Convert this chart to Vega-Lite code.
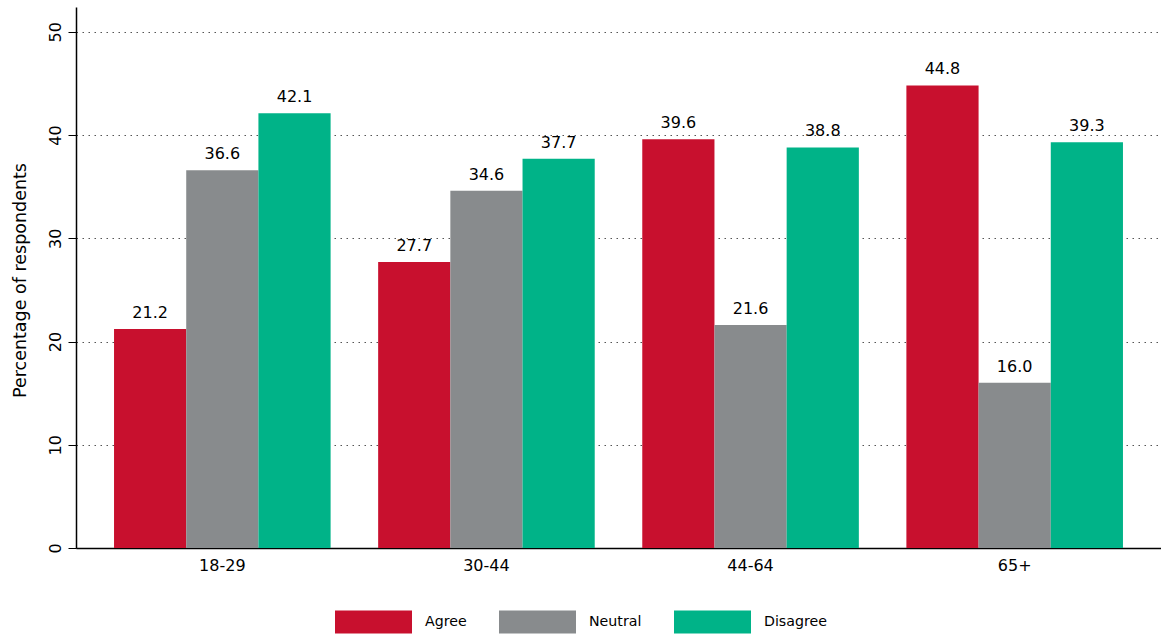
{
  "$schema": "https://vega.github.io/schema/vega-lite/v6.json",
  "autosize": "none",
  "padding": {"left": 76, "top": 7, "right": 0, "bottom": 89},
  "width": 1085,
  "height": 541,
  "background": "white",
  "config": {
    "view": {"stroke": null},
    "font": "DejaVu Sans",
    "axis": {"labelFont": "DejaVu Sans", "titleFont": "DejaVu Sans", "labelColor": "black", "titleColor": "black", "domainColor": "black", "tickColor": "black"},
    "legend": {"labelFont": "DejaVu Sans"}
  },
  "data": {
    "values": [
      {"age": "18-29", "response": "Agree", "pct": 21.2},
      {"age": "18-29", "response": "Neutral", "pct": 36.6},
      {"age": "18-29", "response": "Disagree", "pct": 42.1},
      {"age": "30-44", "response": "Agree", "pct": 27.7},
      {"age": "30-44", "response": "Neutral", "pct": 34.6},
      {"age": "30-44", "response": "Disagree", "pct": 37.7},
      {"age": "44-64", "response": "Agree", "pct": 39.6},
      {"age": "44-64", "response": "Neutral", "pct": 21.6},
      {"age": "44-64", "response": "Disagree", "pct": 38.8},
      {"age": "65+", "response": "Agree", "pct": 44.8},
      {"age": "65+", "response": "Neutral", "pct": 16.0},
      {"age": "65+", "response": "Disagree", "pct": 39.3}
    ]
  },
  "encoding": {
    "x": {
      "field": "age", "type": "nominal", "sort": ["18-29", "30-44", "44-64", "65+"],
      "scale": {"paddingInner": 0.18, "paddingOuter": 0.144},
      "axis": {"title": null, "labelAngle": 0, "ticks": false, "labelPadding": 9, "labelFontSize": 16, "domainWidth": 1.5, "grid": false}
    },
    "xOffset": {"field": "response", "type": "nominal", "sort": ["Agree", "Neutral", "Disagree"], "scale": {"paddingInner": 0, "paddingOuter": 0}},
    "y": {
      "field": "pct", "type": "quantitative",
      "scale": {"domain": [0, 52.4], "nice": false, "zero": true},
      "axis": {
        "title": "Percentage of respondents",
        "values": [0, 10, 20, 30, 40, 50],
        "titleFontSize": 17.5, "titleFontWeight": "normal", "titleAngle": 270,
        "titleX": -51, "titleY": 273, "titleAlign": "center", "titleBaseline": "alphabetic",
        "labelFontSize": 16, "labelAngle": 270, "labelAlign": "center", "labelBaseline": "alphabetic", "labelPadding": 8,
        "tickSize": 8, "tickWidth": 1, "domainWidth": 1.5,
        "grid": true, "gridDash": [1.5, 4.5], "gridColor": "#555555", "gridWidth": 1.2
      }
    }
  },
  "layer": [
    {
      "mark": {"type": "bar", "stroke": null},
      "encoding": {
        "color": {
          "field": "response", "type": "nominal", "sort": ["Agree", "Neutral", "Disagree"],
          "scale": {"domain": ["Agree", "Neutral", "Disagree"], "range": ["#C8102E", "#888B8D", "#00B388"]},
          "legend": {
            "title": null, "orient": "none", "direction": "horizontal",
            "legendX": 259, "legendY": 576, "padding": 0,
            "symbolType": "M-1,-0.3L1,-0.3L1,0.3L-1,0.3Z", "symbolSize": 5929,
            "symbolStrokeWidth": 0, "symbolOpacity": 1,
            "labelFontSize": 14.2, "labelOffset": 13, "columnPadding": 32, "labelColor": "black"
          }
        }
      }
    },
    {
      "mark": {"type": "text", "baseline": "alphabetic", "dy": -11, "fontSize": 16, "color": "black"},
      "encoding": {
        "text": {"field": "pct", "type": "quantitative", "format": ".1f"}
      }
    }
  ]
}
